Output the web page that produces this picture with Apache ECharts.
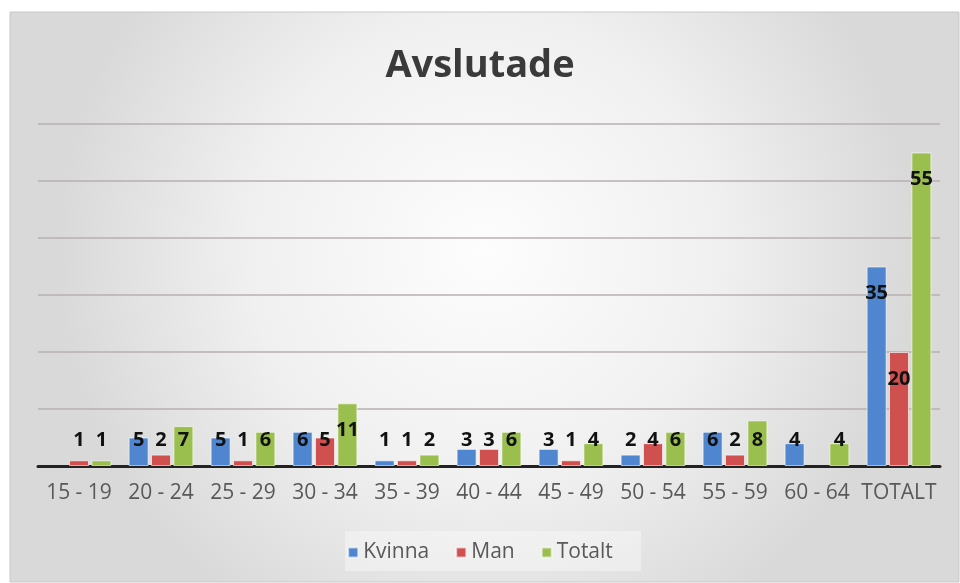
<!DOCTYPE html>
<html><head><meta charset="utf-8">
<script src="https://cdn.jsdelivr.net/npm/echarts@6/dist/echarts.min.js"></script>
<style>html,body{margin:0;padding:0;background:#fff}#c{width:960px;height:583px}</style>
</head><body><div id="c"></div>
<script>
const categories = ['15 - 19','20 - 24','25 - 29','30 - 34','35 - 39','40 - 44','45 - 49','50 - 54','55 - 59','60 - 64','TOTALT'];
const kvinna = [0,5,5,6,1,3,3,2,6,4,35];
const man    = [1,2,1,5,1,3,1,4,2,0,20];
const totalt = [1,7,6,11,2,6,4,6,8,4,55];
const seriesNames = ['Kvinna','Man','Totalt'];
const colors = ['#4f86cf','#d0504f','#9bbf4f'];

function items(arr){
  return arr.map(v => {
    if (v === 0) return {value: v, label:{show:false}, itemStyle:{borderWidth:0}};
    const big = v >= 10;
    return {value: v, label:{show:true, position: big ? 'insideTop' : 'insideBottom', distance: big ? 17 : 16}};
  });
}
const labelStyle = {fontFamily:'Open Sans', fontWeight:'bold', fontSize:20, color:'#111'};
const chart = echarts.init(document.getElementById('c'), null, {renderer:'canvas'});
chart.setOption({
  animation:false,
  graphic:[{type:'rect', z:-10, shape:{x:10,y:12,width:949,height:570},
    style:{fill:{type:'radial',x:0.5,y:0.42,r:0.75,colorStops:[{offset:0,color:'#fdfdfd'},{offset:0.55,color:'#f0f0f0'},{offset:1,color:'#d9d9d9'}]}, stroke:'#c9c9c9', lineWidth:1}},
    {type:'rect', z:-9, shape:{x:345,y:531,width:296,height:40}, style:{fill:'rgba(255,255,255,0.35)'}}],
  title:{text:'Avslutade', left:'center', top:42, textStyle:{fontFamily:'Open Sans', fontWeight:'bold', fontSize:38, color:'#3a3a3a'}},
  legend:{data:seriesNames, bottom:15, left:'center', itemWidth:10, itemHeight:10, itemGap:26, icon:'rect',
    textStyle:{fontFamily:'Open Sans', fontSize:21, color:'#595959'}},
  grid:{left:38, right:20, top:124, bottom:117, containLabel:false},
  xAxis:{type:'category', data:categories, axisTick:{show:false},
    axisLine:{lineStyle:{color:'#222', width:3}},
    axisLabel:{fontFamily:'Open Sans', fontSize:21, color:'#595959', margin:17, interval:0}},
  yAxis:{type:'value', min:0, max:60, interval:10, axisLabel:{show:false}, axisLine:{show:false}, axisTick:{show:false},
    splitLine:{lineStyle:{color:'#b5b0ac', width:1.5}}},
  series:[kvinna, man, totalt].map((arr,i)=>({
    name:seriesNames[i], type:'bar', data:items(arr), barWidth:20, barGap:'12%',
    itemStyle:{color:colors[i], borderColor:'rgba(255,255,255,0.6)', borderWidth:1},
    label:Object.assign({}, labelStyle)
  }))
});
</script></body></html>
